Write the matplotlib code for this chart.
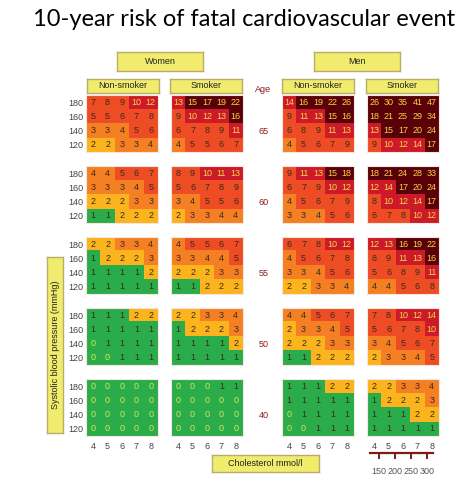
import numpy as np
import matplotlib
matplotlib.use("Agg")
import matplotlib.pyplot as plt
from matplotlib.colors import ListedColormap, BoundaryNorm

# SCORE chart values, rows = SBP 180,160,140,120 ; cols = cholesterol 4..8
ages = [65, 60, 55, 50, 40]
sbp_labels = ["180", "160", "140", "120"]
chol_labels = ["4", "5", "6", "7", "8"]
groups = ["Women Non-smoker", "Women Smoker", "Men Non-smoker", "Men Smoker"]

women_nonsmoker = {
    65: [[7, 8, 9, 10, 12], [5, 5, 6, 7, 8], [3, 3, 4, 5, 6], [2, 2, 3, 3, 4]],
    60: [[4, 4, 5, 6, 7], [3, 3, 3, 4, 5], [2, 2, 2, 3, 3], [1, 1, 2, 2, 2]],
    55: [[2, 2, 3, 3, 4], [1, 2, 2, 2, 3], [1, 1, 1, 1, 2], [1, 1, 1, 1, 1]],
    50: [[1, 1, 1, 2, 2], [1, 1, 1, 1, 1], [0, 1, 1, 1, 1], [0, 0, 1, 1, 1]],
    40: [[0, 0, 0, 0, 0], [0, 0, 0, 0, 0], [0, 0, 0, 0, 0], [0, 0, 0, 0, 0]],
}
women_smoker = {
    65: [[13, 15, 17, 19, 22], [9, 10, 12, 13, 16], [6, 7, 8, 9, 11], [4, 5, 5, 6, 7]],
    60: [[8, 9, 10, 11, 13], [5, 6, 7, 8, 9], [3, 4, 5, 5, 6], [2, 3, 3, 4, 4]],
    55: [[4, 5, 5, 6, 7], [3, 3, 4, 4, 5], [2, 2, 2, 3, 3], [1, 1, 2, 2, 2]],
    50: [[2, 2, 3, 3, 4], [1, 2, 2, 2, 3], [1, 1, 1, 1, 2], [1, 1, 1, 1, 1]],
    40: [[0, 0, 0, 1, 1], [0, 0, 0, 0, 0], [0, 0, 0, 0, 0], [0, 0, 0, 0, 0]],
}
men_nonsmoker = {
    65: [[14, 16, 19, 22, 26], [9, 11, 13, 15, 16], [6, 8, 9, 11, 13], [4, 5, 6, 7, 9]],
    60: [[9, 11, 13, 15, 18], [6, 7, 9, 10, 12], [4, 5, 6, 7, 9], [3, 3, 4, 5, 6]],
    55: [[6, 7, 8, 10, 12], [4, 5, 6, 7, 8], [3, 3, 4, 5, 6], [2, 2, 3, 3, 4]],
    50: [[4, 4, 5, 6, 7], [2, 3, 3, 4, 5], [2, 2, 2, 3, 3], [1, 1, 2, 2, 2]],
    40: [[1, 1, 1, 2, 2], [1, 1, 1, 1, 1], [0, 1, 1, 1, 1], [0, 0, 1, 1, 1]],
}
men_smoker = {
    65: [[26, 30, 35, 41, 47], [18, 21, 25, 29, 34], [13, 15, 17, 20, 24], [9, 10, 12, 14, 17]],
    60: [[18, 21, 24, 28, 33], [12, 14, 17, 20, 24], [8, 10, 12, 14, 17], [6, 7, 8, 10, 12]],
    55: [[12, 13, 16, 19, 22], [8, 9, 11, 13, 16], [5, 6, 8, 9, 11], [4, 4, 5, 6, 8]],
    50: [[7, 8, 10, 12, 14], [5, 6, 7, 8, 10], [3, 4, 5, 6, 7], [2, 3, 3, 4, 5]],
    40: [[2, 2, 3, 3, 4], [1, 2, 2, 2, 3], [1, 1, 1, 2, 2], [1, 1, 1, 1, 1]],
}
tables = [women_nonsmoker, women_smoker, men_nonsmoker, men_smoker]

mgdl_ticks = [150, 200, 250, 300]

# colour bands
bounds = [0, 2, 3, 5, 10, 15, 100]
band_colors = ["#2aac4a", "#fbb41d", "#f48023", "#ee4c24", "#cd1a2a", "#5a0008"]
cmap = ListedColormap(band_colors)
norm = BoundaryNorm(bounds, cmap.N)

W, H = 468, 480
fig = plt.figure(figsize=(W / 100, H / 100), dpi=100)
plt.rcParams['font.family'] = ['Liberation Sans', 'DejaVu Sans']


def px_axes(x0, y0, x1, y1):
    # axes placed by pixel box (top-left origin)
    return fig.add_axes([x0 / W, 1 - y1 / H, (x1 - x0) / W, (y1 - y0) / H])


def label_box(x0, y0, x1, y1, text, size=6.5, rot=0):
    ax = px_axes(x0, y0, x1, y1)
    ax.set_facecolor("#f1ec6e")
    ax.set_xticks([])
    ax.set_yticks([])
    for s in ax.spines.values():
        s.set_color("#b9ad6a")
        s.set_linewidth(1)
    ax.text(0.5, 0.5, text, ha="center", va="center", fontsize=size,
            rotation=rot, color="#222", transform=ax.transAxes)
    return ax


fig.text(244 / W, 1 - 20 / H, "10-year risk of fatal cardiovascular event",
         ha="center", va="center", fontsize=17, family=["Lato", "DejaVu Sans"])

label_box(117, 52, 203, 71, "Women")
label_box(314, 52, 400, 71, "Men")
col_x = [86, 171, 282, 367]
box_x = [(87, 159), (170, 242), (282, 354), (366, 438)]
for (a, b), t in zip(box_x, ["Non-smoker", "Smoker", "Non-smoker", "Smoker"]):
    label_box(a, 79, b, 93, t)
fig.text(263 / W, 1 - 89 / H, "Age", ha="center", va="center",
         fontsize=6.5, color="#8b1a1a")

row_y = [95, 166, 237, 308, 379]
bw, bh = 72, 57
for r, age in enumerate(ages):
    for c, tab in enumerate(tables):
        vals = np.array(tab[age])
        ax = px_axes(col_x[c], row_y[r], col_x[c] + bw, row_y[r] + bh)
        ax.imshow(vals, cmap=cmap, norm=norm, aspect="auto", interpolation="nearest")
        for i in range(vals.shape[0]):
            for j in range(vals.shape[1]):
                v = vals[i, j]
                if v == 0:
                    tc = "#d6e55a"
                elif v >= 10:
                    tc = "#f3d544"
                else:
                    tc = "#3a2a1c"
                ax.text(j, i, str(v), ha="center", va="center", fontsize=6.5, color=tc)
        for s in ax.spines.values():
            s.set_color("#f6e6e0")
            s.set_linewidth(0.8)
        ax.tick_params(length=0, labelsize=6.5, labelcolor="#444")
        if c == 0:
            ax.set_yticks(range(4), sbp_labels)
            ax.tick_params(axis="y", pad=2)
        else:
            ax.set_yticks([])
        if r == len(ages) - 1:
            ax.set_xticks(range(5), chol_labels)
            ax.tick_params(axis="x", pad=4)
        else:
            ax.set_xticks([])
    fig.text(264 / W, 1 - (row_y[r] + bh / 2 + 8) / H, str(age), ha="center",
             va="center", fontsize=6.5, color="#8b1a1a")

label_box(47, 257, 63, 433, "Systolic blood pressure (mmHg)", rot=90)
label_box(212, 455, 319, 472, "Cholesterol mmol/l")

# mg/dl scale
sax = px_axes(370, 448, 433, 453)
sax.set_xlim(122, 319)
sax.set_ylim(0, 1)
sax.set_facecolor("none")
for k in ["top", "left", "right"]:
    sax.spines[k].set_visible(False)
sax.spines["bottom"].set_color("#7b1c1c")
sax.spines["bottom"].set_linewidth(1.6)
sax.set_yticks([])
sax.set_xticks(mgdl_ticks, [str(t) for t in mgdl_ticks])
sax.tick_params(axis="x", length=4, width=1.4, color="#7b1c1c", pad=6,
                labelsize=6.5, labelcolor="#555")

fig.savefig("out.png", dpi=100)
